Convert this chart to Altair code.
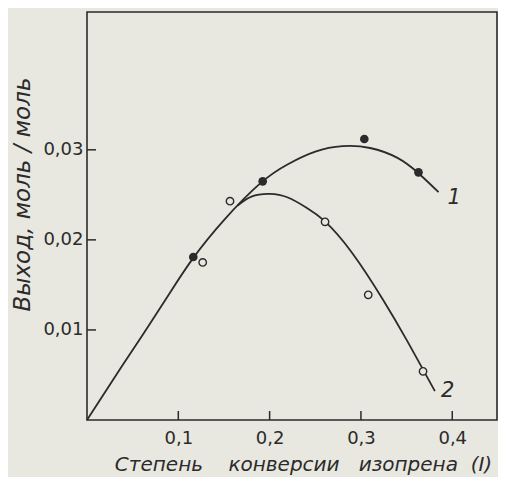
import altair as alt
import pandas as pd

# ---- data ----
x_ticks = [0.1, 0.2, 0.3, 0.4]
y_ticks = [0.01, 0.02, 0.03]

# series 1 (filled circles)
s1_x = [0.1164, 0.1924, 0.3037, 0.363]
s1_y = [0.0181, 0.0265, 0.0312, 0.0275]
# series 2 (open circles)
s2_x = [0.1267, 0.1566, 0.2607, 0.308, 0.368]
s2_y = [0.0175, 0.0243, 0.0220, 0.0139, 0.0054]

# smooth curves
c1_x = [0.0, 0.03, 0.06, 0.09, 0.1164, 0.15, 0.19, 0.22, 0.25, 0.28, 0.31, 0.34, 0.363, 0.385]
c1_y = [0.0, 0.0047, 0.0093, 0.0140, 0.0180, 0.0222, 0.0263, 0.0284, 0.0298, 0.0304, 0.0302, 0.0291, 0.0274, 0.0253]
c2_x = [0.165, 0.18, 0.2, 0.22, 0.24, 0.26, 0.29, 0.3245, 0.35, 0.368, 0.381]
c2_y = [0.0238, 0.0248, 0.0251, 0.0247, 0.0236, 0.0221, 0.0186, 0.0133, 0.0089, 0.0056, 0.0032]

curve_labels = ["1", "2"]
label_x = [0.402, 0.395]
label_y = [0.0247, 0.0032]

NB = "\u00a0"
x_title = "Степень" + NB * 4 + "конверсии" + NB * 3 + "изопрена" + NB * 2 + "(I)"
y_title = "Выход, моль / моль"

# ---- styling ----
W, H = 410, 408
BG = "#e8e7e0"
INK = "#2b2b2b"
FONT = "DejaVu Sans"

xs = alt.Scale(domain=[0, 0.449], nice=False, zero=False)
ys = alt.Scale(domain=[0, 0.0453], nice=False, zero=False)

x_axis = alt.Axis(
    values=x_ticks,
    labelExpr="replace(format(datum.value, '.1f'), '.', ',')",
    ticks=False, domain=False, grid=False,
    labelPadding=9, labelFontSize=18, labelFont=FONT, labelColor=INK,
    title=x_title, titleFont=FONT, titleFontSize=20, titleFontStyle="italic",
    titleFontWeight="normal", titleColor=INK,
    titleX=216, titleY=50, titleBaseline="alphabetic",
)
y_axis = alt.Axis(
    values=y_ticks,
    labelExpr="replace(format(datum.value, '.2f'), '.', ',')",
    ticks=False, domain=False, grid=False,
    labelPadding=4, labelFontSize=18, labelFont=FONT, labelColor=INK,
    title=y_title, titleFont=FONT, titleFontSize=23, titleFontStyle="italic",
    titleFontWeight="normal", titleColor=INK,
    titleAngle=270, titleX=-58, titleY=182, titleBaseline="alphabetic",
)

c1 = pd.DataFrame({"x": c1_x, "y": c1_y})
c2 = pd.DataFrame({"x": c2_x, "y": c2_y})
p1 = pd.DataFrame({"x": s1_x, "y": s1_y})
p2 = pd.DataFrame({"x": s2_x, "y": s2_y})
lab = pd.DataFrame({"x": label_x, "y": label_y, "t": curve_labels})
xt = pd.DataFrame({"v": x_ticks})
yt = pd.DataFrame({"v": y_ticks})

line1 = alt.Chart(c1).mark_line(color=INK, strokeWidth=1.8, interpolate="natural").encode(
    x=alt.X("x:Q", scale=xs, axis=x_axis),
    y=alt.Y("y:Q", scale=ys, axis=y_axis),
)
line2 = alt.Chart(c2).mark_line(color=INK, strokeWidth=1.8, interpolate="natural").encode(
    x=alt.X("x:Q", scale=xs), y=alt.Y("y:Q", scale=ys)
)
pts1 = alt.Chart(p1).mark_circle(color=INK, size=75, opacity=1).encode(
    x=alt.X("x:Q", scale=xs), y=alt.Y("y:Q", scale=ys)
)
pts2 = alt.Chart(p2).mark_point(shape="circle", filled=True, fill=BG, stroke=INK,
                                 strokeWidth=1.4, size=55, opacity=1).encode(
    x=alt.X("x:Q", scale=xs), y=alt.Y("y:Q", scale=ys)
)
labels = alt.Chart(lab).mark_text(font=FONT, fontSize=21, fontStyle="italic",
                                   color=INK, align="center", baseline="middle").encode(
    x=alt.X("x:Q", scale=xs), y=alt.Y("y:Q", scale=ys), text="t:N"
)
xticks = alt.Chart(xt).mark_rule(color=INK, strokeWidth=1.5).encode(
    x=alt.X("v:Q", scale=xs), y=alt.value(H), y2=alt.value(H - 9)
)
yticks = alt.Chart(yt).mark_rule(color=INK, strokeWidth=1.5).encode(
    y=alt.Y("v:Q", scale=ys), x=alt.value(0), x2=alt.value(9)
)

chart = alt.layer(line1, line2, pts1, pts2, labels, xticks, yticks).properties(
    width=W, height=H, background=BG,
    autosize=alt.AutoSizeParams(type="none"),
    padding={"left": 79, "top": 4, "right": 1, "bottom": 57},
).configure_view(stroke=INK, strokeWidth=1.6)

chart.save("out.html", embed_options={"renderer": "svg", "actions": False})
